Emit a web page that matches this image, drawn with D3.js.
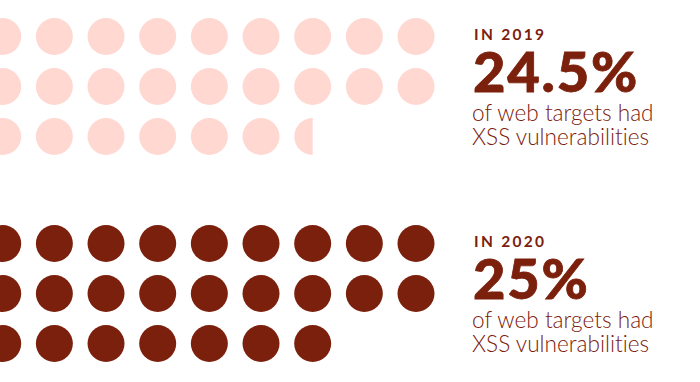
<!DOCTYPE html>
<html>
<head>
<meta charset="utf-8">
<script src="https://cdn.jsdelivr.net/npm/d3@7"></script>
<style>
  body { margin: 0; background: #fff; }
  svg { display: block; }
  text { font-variant-ligatures: none; }
</style>
</head>
<body>
<div id="chart"></div>
<script>
const years = ["2019", "2020"];
const percents = [24.5, 25];
const percentLabels = ["24.5%", "25%"];
const captionLines = ["of web targets had", "XSS vulnerabilities"];
const dotColors = ["#ffd8d2", "#7b200c"];
const textColor = "#7b200c";
const dotsPerRow = 9;
const nRows = 3;

const width = 700, height = 382;
const svg = d3.select("#chart").append("svg")
  .attr("width", width)
  .attr("height", height);

const radius = 18.5;
const x = d3.scaleLinear().domain([0, dotsPerRow - 1]).range([2.7, 416]);
// each panel has its own row band
const panelTop = [36.5, 243.5];
const rowStep = 50;

function drawPanel(p){
  const value = percents[p];
  const dots = [];
  for (let i = 0; i < Math.ceil(value); i++){
    dots.push({col: i % dotsPerRow, row: Math.floor(i / dotsPerRow), frac: Math.min(1, value - i)});
  }
  const g = svg.append("g");
  const y = d => panelTop[p] + d.row * rowStep;

  dots.forEach((d, i) => {
    if (d.frac < 1){
      // cut the last dot so only a part of it shows
      const id = "clip" + p + "_" + i;
      svg.append("clipPath").attr("id", id)
        .append("rect")
        .attr("x", x(d.col) - radius)
        .attr("y", y(d) - radius)
        .attr("width", 2 * radius * d.frac)
        .attr("height", 2 * radius);
      d.clip = id;
    }
  });

  g.selectAll("circle")
    .data(dots)
    .join("circle")
    .attr("cx", d => x(d.col))
    .attr("cy", y)
    .attr("r", radius)
    .attr("fill", dotColors[p])
    .attr("clip-path", d => d.clip ? `url(#${d.clip})` : null);

  const tx = 473;
  const base = panelTop[p];
  const t = svg.append("g").attr("fill", textColor);
  t.append("text")
    .attr("x", tx + 1)
    .attr("y", base + 3.5)
    .attr("font-family", "Lato")
    .attr("font-weight", 700)
    .attr("font-size", "15.5px")
    .attr("letter-spacing", "2.3px")
    .text("IN " + years[p]);
  t.append("text")
    .attr("x", tx)
    .attr("y", base + 55)
    .attr("font-family", "Lato")
    .attr("font-weight", 900)
    .attr("font-size", "56px")
    .attr("letter-spacing", "1.8px")
    .attr("stroke", textColor)
    .attr("stroke-width", 0.8)
    .text(percentLabels[p]);
  captionLines.forEach((line, k) => {
    t.append("text")
      .attr("x", tx - 1)
      .attr("y", base + 84 + k * 24)
      .attr("font-family", "Lato")
      .attr("font-weight", 300)
      .attr("font-size", "22.6px")
      .text(line);
  });
}

years.forEach((yr, p) => drawPanel(p));
</script>
</body>
</html>
